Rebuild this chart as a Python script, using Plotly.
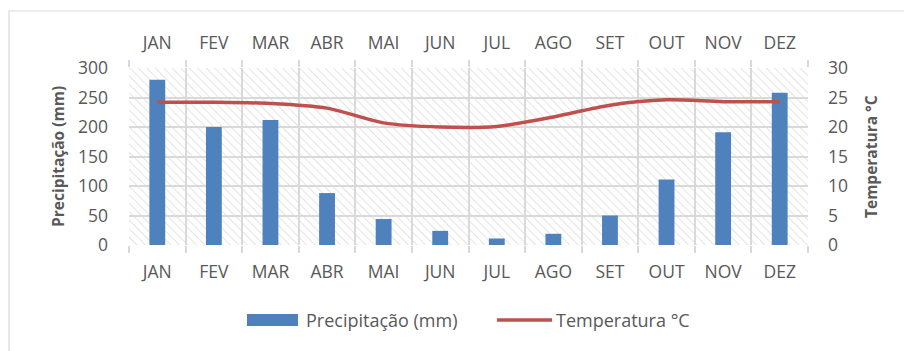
import plotly.graph_objects as go

# Monthly climate normals
months = ["JAN", "FEV", "MAR", "ABR", "MAI", "JUN", "JUL", "AGO", "SET", "OUT", "NOV", "DEZ"]
precip_mm = [280, 200, 212, 88, 44, 24, 11, 19, 50, 111, 191, 258]
temp_c = [24.2, 24.2, 24.0, 23.2, 20.7, 20.0, 20.1, 21.7, 23.7, 24.6, 24.3, 24.3]

W, H = 904, 351
PL, PR, PT, PB = 129, 808, 68, 245  # plot area in pixels

def px(x):
    return (x - PL) / (PR - PL)

def py(y):
    return (PB - y) / (PB - PT)

FONT = "Open Sans"
FS = 17.5
GREY_TXT = "#595959"
GRID = "#D9D9D9"
BLUE = "#4F81BD"
RED = "#C0504D"

# diagonal hatch for the plot background
hatch_svg = (
    "<svg xmlns='http://www.w3.org/2000/svg' width='679' height='177'>"
    "<defs><pattern id='h' width='6' height='6' patternUnits='userSpaceOnUse' "
    "patternTransform='rotate(-45)'>"
    "<line x1='0' y1='0' x2='0' y2='6' stroke='%23E4E4E4' stroke-width='2'/>"
    "</pattern></defs><rect width='100%25' height='100%25' fill='url(%23h)'/></svg>"
)
hatch_src = "data:image/svg+xml;charset=utf-8," + hatch_svg.replace("<", "%3C").replace(">", "%3E").replace(" ", "%20")

fig = go.Figure()

fig.add_trace(go.Bar(
    x=months, y=precip_mm, name="Precipitação (mm)",
    marker=dict(color=BLUE, line=dict(width=0)), width=0.28,
    xaxis="x", yaxis="y", showlegend=False,
))
fig.add_trace(go.Scatter(
    x=months, y=temp_c, name="Temperatura °C", mode="lines",
    line=dict(color=RED, width=3.5, shape="spline", smoothing=0.8),
    xaxis="x", yaxis="y2", showlegend=False,
))
# empty trace so the top month axis is drawn
fig.add_trace(go.Scatter(x=months, y=[None] * len(months), xaxis="x2", yaxis="y",
                         showlegend=False, hoverinfo="skip"))

tickfont = dict(family=FONT, size=FS, color=GREY_TXT)

fig.update_layout(
    width=W, height=H,
    margin=dict(l=PL, r=W - PR, t=PT, b=H - PB, pad=0),
    paper_bgcolor="white",
    plot_bgcolor="rgba(0,0,0,0)",
    showlegend=False,
    xaxis=dict(
        type="category", categoryorder="array", categoryarray=months,
        range=[-0.5, 11.5], tickson="boundaries",
        showgrid=True, gridcolor=GRID, gridwidth=2,
        ticks="outside", ticklen=7, tickcolor=GRID, tickwidth=2,
        showline=False, zeroline=False,
        tickfont=tickfont, ticklabelstandoff=14,
    ),
    xaxis2=dict(
        type="category", categoryorder="array", categoryarray=months,
        overlaying="x", side="top", matches="x", tickson="boundaries",
        showgrid=False, ticks="outside", ticklen=7, tickcolor=GRID, tickwidth=2,
        showline=False, zeroline=False,
        tickfont=tickfont, ticklabelstandoff=15,
    ),
    yaxis=dict(
        range=[0, 300], dtick=50, showgrid=True, gridcolor=GRID, gridwidth=2,
        zeroline=False, showline=False, ticks="",
        tickfont=tickfont, ticklabelstandoff=20,
    ),
    yaxis2=dict(
        range=[0, 30], dtick=5, overlaying="y", side="right", showgrid=False,
        zeroline=False, showline=False, ticks="",
        tickfont=tickfont, ticklabelstandoff=19,
    ),
    images=[dict(
        source=hatch_src, xref="paper", yref="paper", x=0, y=1,
        sizex=1, sizey=1, xanchor="left", yanchor="top",
        sizing="stretch", layer="below",
    )],
)

shapes = [
    # chart frame
    dict(type="rect", xref="paper", yref="paper",
         x0=px(9), x1=px(W + 20), y0=py(H + 20), y1=py(11),
         line=dict(color=GRID, width=1.2), fillcolor="rgba(0,0,0,0)", layer="below"),
    # legend swatches
    dict(type="rect", xref="paper", yref="paper",
         x0=px(247), x1=px(298), y0=py(326), y1=py(314),
         line=dict(width=0), fillcolor=BLUE),
    dict(type="line", xref="paper", yref="paper",
         x0=px(497), x1=px(552), y0=py(320), y1=py(320),
         line=dict(color=RED, width=3.5)),
]

annotations = [
    dict(text="<b>Precipitação (mm)</b>", xref="paper", yref="paper",
         x=px(58), y=py(157), textangle=-90, showarrow=False,
         xanchor="center", yanchor="middle",
         font=dict(family=FONT, size=15.5, color=GREY_TXT)),
    dict(text="<b>Temperatura °C</b>", xref="paper", yref="paper",
         x=px(871), y=py(156), textangle=-90, showarrow=False,
         xanchor="center", yanchor="middle",
         font=dict(family=FONT, size=15.5, color=GREY_TXT)),
    dict(text="Precipitação (mm)", xref="paper", yref="paper",
         x=px(304), y=py(320), showarrow=False, xanchor="left", yanchor="middle",
         font=dict(family=FONT, size=18, color=GREY_TXT)),
    dict(text="Temperatura °C", xref="paper", yref="paper",
         x=px(554), y=py(320), showarrow=False, xanchor="left", yanchor="middle",
         font=dict(family=FONT, size=18, color=GREY_TXT)),
]

fig.update_layout(shapes=shapes, annotations=annotations)

fig.write_html("out.html")
